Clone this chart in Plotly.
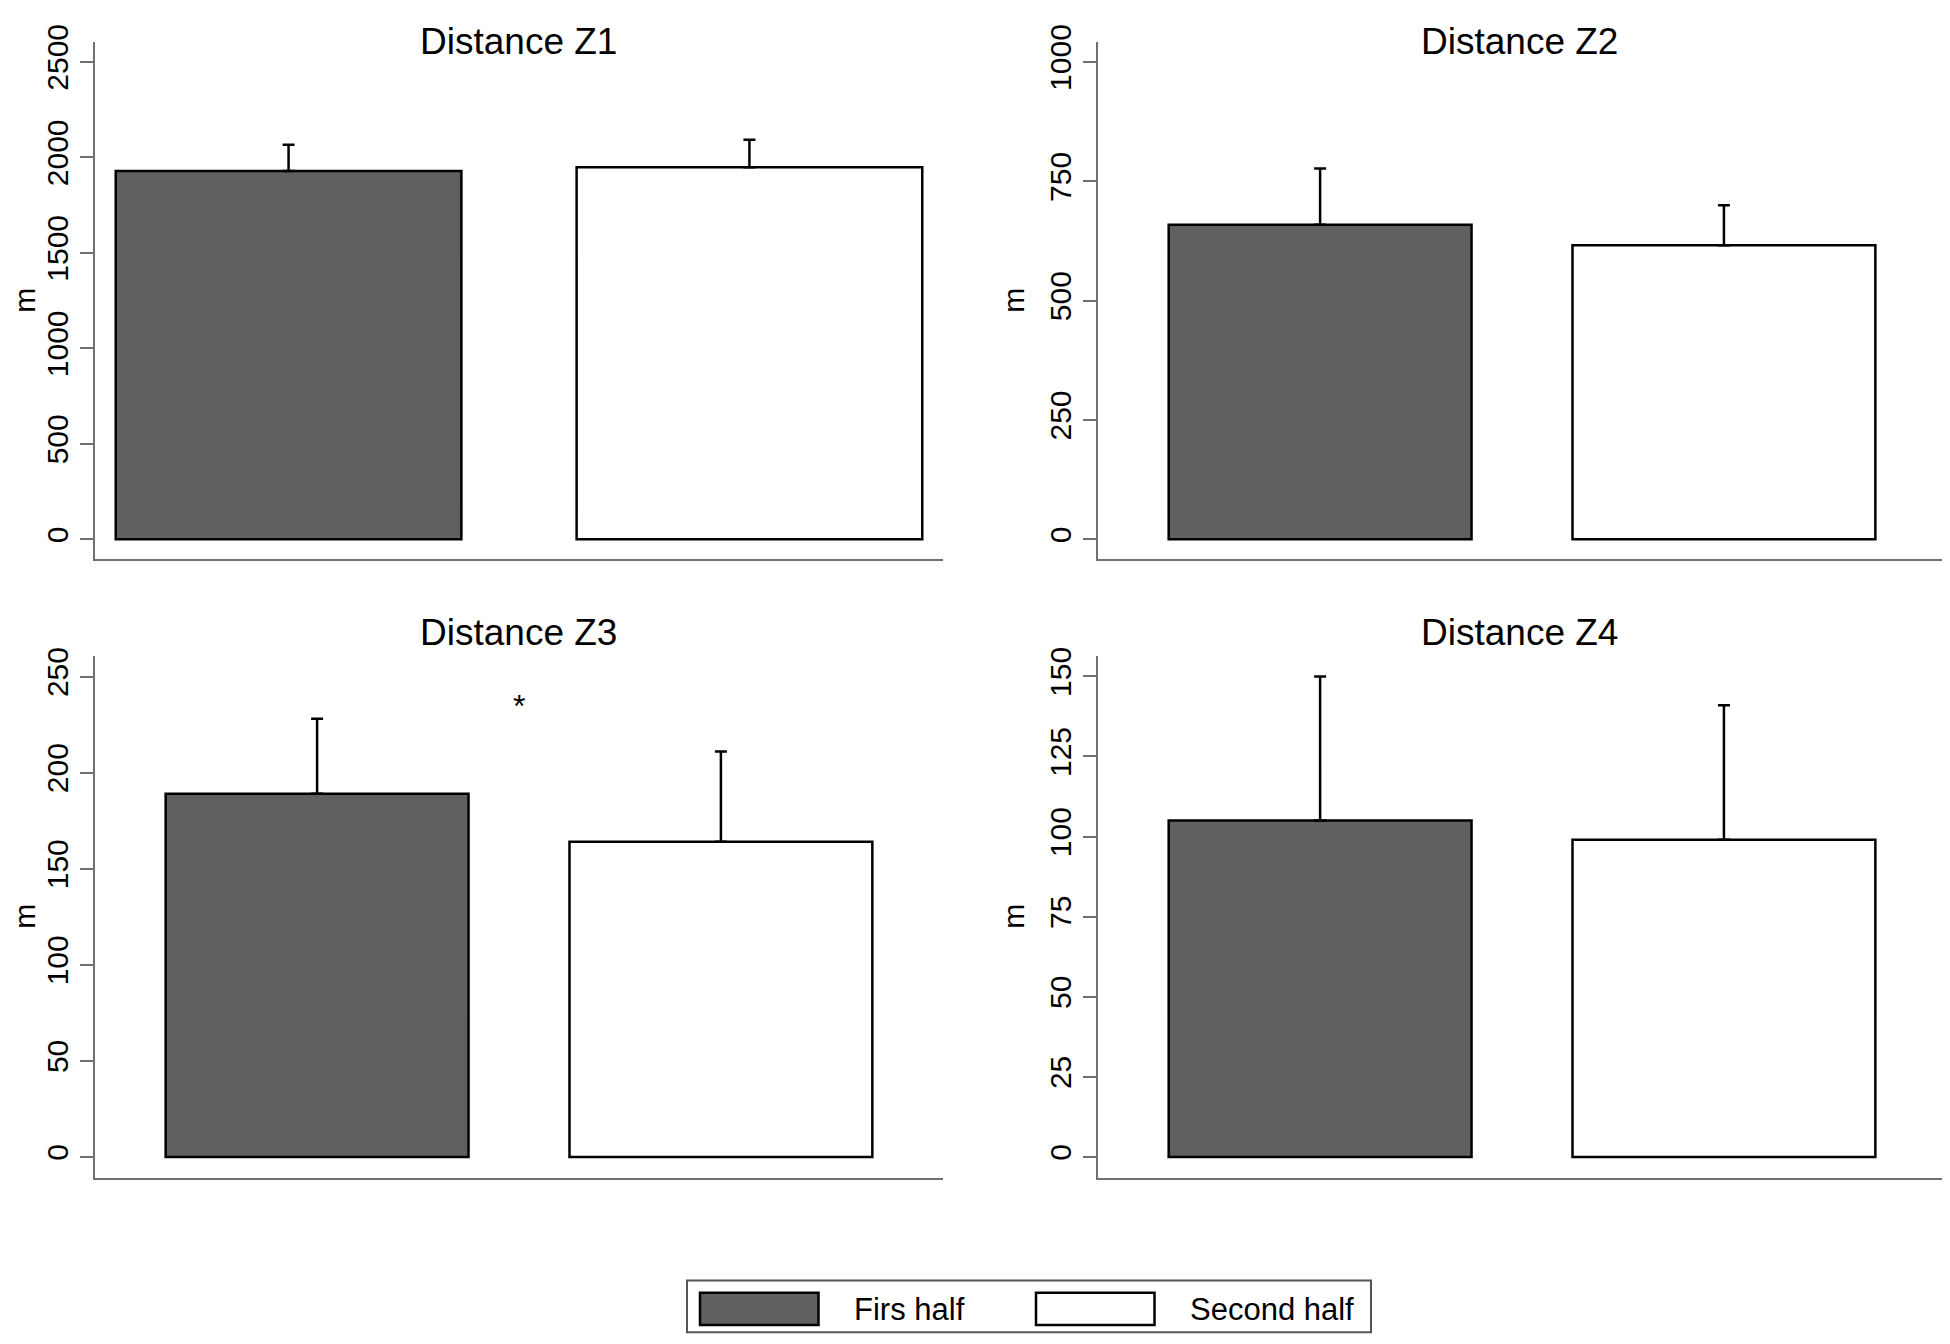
import plotly.graph_objects as go

# the page puts the figure 8px in from the left and ~26px down from the top, and the
# screenshot comes back squeezed a little vertically; positions below are given in
# screenshot pixels and mapped back onto the figure
LEFT, TOP, SY = 8, 26.3, 0.9877
W, H = 1934, 1326
FONT = "Arial, Liberation Sans, sans-serif"

# data
halves = ["Firs half", "Second half"]
panels = ["Distance Z1", "Distance Z2", "Distance Z3", "Distance Z4"]
z1_mean = [1928, 1948]
z1_sd = [138, 144]
z2_mean = [659, 616]
z2_sd = [118, 84]
z3_mean = [189, 164]
z3_sd = [39, 47]
z4_mean = [105, 99]
z4_sd = [45, 42]
z1_ticks = [0, 500, 1000, 1500, 2000, 2500]
z2_ticks = [0, 250, 500, 750, 1000]
z3_ticks = [0, 50, 100, 150, 200, 250]
z4_ticks = [0, 25, 50, 75, 100, 125, 150]

bar_colors = ["#606060", "#ffffff"]
axis_gray = "#707070"


def fx(x):
    return min(max((x - LEFT) / W, 0), 1)


def fy(y):
    return min(max(1 - (y / SY - TOP) / H, 0), 1)


means = [z1_mean, z2_mean, z3_mean, z4_mean]
sds = [z1_sd, z2_sd, z3_sd, z4_sd]
ticks = [z1_ticks, z2_ticks, z3_ticks, z4_ticks]
yranges = [[-105, 2604], [-42, 1042], [-10.7, 260.6], [-6.4, 156.3]]
xranges = [[-0.42, 1.42], [-0.55, 1.54], [-0.55, 1.55], [-0.55, 1.54]]
xdoms = [[fx(95), fx(943)], [fx(1098), fx(1945)],
         [fx(95), fx(943)], [fx(1098), fx(1945)]]
ydoms = [[fy(560), fy(42)], [fy(560), fy(42)],
         [fy(1179), fy(657)], [fy(1179), fy(657)]]
m_shift = [-70, -84, -70, -84]

fig = go.Figure()
annotations = []

for i in range(4):
    n = "" if i == 0 else str(i + 1)
    fig.add_trace(go.Bar(
        x=halves, y=means[i],
        xaxis="x" + n, yaxis="y" + n,
        width=0.75,
        marker=dict(color=bar_colors, line=dict(color="black", width=2.5)),
        error_y=dict(type="data", symmetric=False, array=sds[i],
                     arrayminus=[0, 0], color="black", thickness=2.5, width=6),
        showlegend=False, hoverinfo="skip",
    ))
    fig.update_layout(**{
        "xaxis" + n: dict(domain=xdoms[i], range=xranges[i], anchor="y" + n,
                          showline=True, linecolor=axis_gray, linewidth=2,
                          showticklabels=False, ticks="", showgrid=False,
                          zeroline=False, fixedrange=True),
        "yaxis" + n: dict(domain=ydoms[i], range=yranges[i], anchor="x" + n,
                          showline=True, linecolor=axis_gray, linewidth=2,
                          tickvals=ticks[i], ticks="outside", ticklen=13,
                          tickwidth=2, tickcolor=axis_gray, tickangle=-90,
                          tickfont=dict(family=FONT, size=30, color="black"),
                          showgrid=False, zeroline=False, fixedrange=True),
    })
    # panel title (top row sits as high as the page allows)
    if i < 2:
        ty, anchor, shift = 1, "top", 7
    else:
        ty, anchor, shift = ydoms[i][1], "middle", 24
    annotations.append(dict(
        text=panels[i], xref="paper", yref="paper",
        x=sum(xdoms[i]) / 2, y=ty, xanchor="center", yanchor=anchor,
        yshift=shift, showarrow=False, font=dict(family=FONT, size=37, color="black"),
    ))
    # y-axis title
    annotations.append(dict(
        text="m", xref="paper", yref="paper", textangle=-90,
        x=xdoms[i][0], y=sum(ydoms[i]) / 2, xanchor="center", yanchor="middle",
        xshift=m_shift[i], showarrow=False,
        font=dict(family=FONT, size=30, color="black"),
    ))

# significance mark between the Z3 bars
annotations.append(dict(
    text="*", xref="x3", yref="y3", x=0.5,
    y=max(m + s for m, s in zip(z3_mean, z3_sd)),
    yanchor="middle", yshift=13, showarrow=False,
    font=dict(family=FONT, size=32, color="black"),
))

# legend drawn by hand to get the wide swatches
shapes = [dict(type="rect", xref="paper", yref="paper",
               x0=fx(687), x1=fx(1371), y0=fy(1334), y1=fy(1282),
               line=dict(color="#555555", width=2), fillcolor="white",
               layer="below")]
sw_left = [700, 1036]
txt_left = [852, 1188]
for k in range(2):
    shapes.append(dict(type="rect", xref="paper", yref="paper",
                       x0=fx(sw_left[k]), x1=fx(sw_left[k] + 118.5),
                       y0=fy(1326.7), y1=fy(1294.3),
                       line=dict(color="black", width=2.5),
                       fillcolor=bar_colors[k]))
    annotations.append(dict(
        text=halves[k], xref="paper", yref="paper", x=fx(txt_left[k]), y=fy(1311),
        xanchor="left", yanchor="middle", showarrow=False,
        font=dict(family=FONT, size=31, color="black"),
    ))

fig.update_layout(
    width=W, height=H, autosize=False,
    margin=dict(l=0, r=0, t=0, b=0),
    paper_bgcolor="white", plot_bgcolor="white",
    annotations=annotations, shapes=shapes,
)

fig.write_html("out.html")
